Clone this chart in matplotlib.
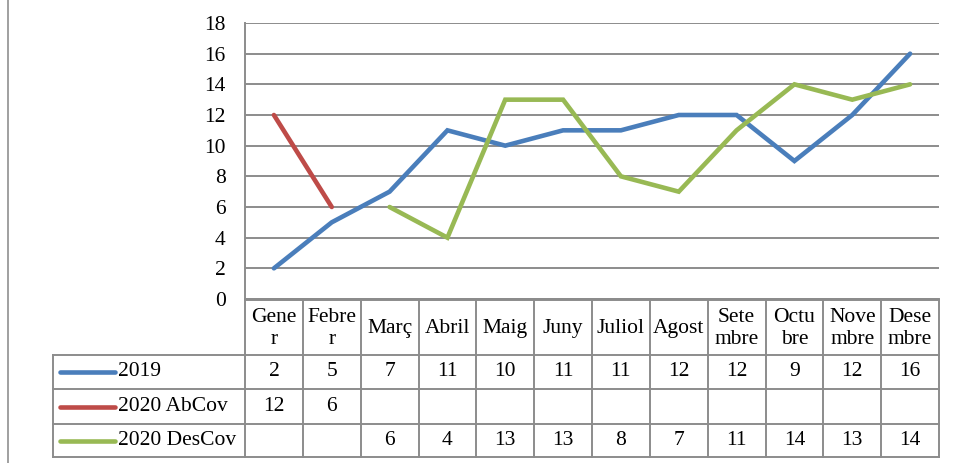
import matplotlib
matplotlib.use('Agg')
import matplotlib.pyplot as plt
import numpy as np

# data
months = ["Gene\nr", "Febre\nr", "Març", "Abril", "Maig", "Juny", "Juliol",
          "Agost", "Sete\nmbre", "Octu\nbre", "Nove\nmbre", "Dese\nmbre"]
s2019 = [2, 5, 7, 11, 10, 11, 11, 12, 12, 9, 12, 16]
abcov = [12, 6, None, None, None, None, None, None, None, None, None, None]
descov = [None, None, 6, 4, 13, 13, 8, 7, 11, 14, 13, 14]
series_names = ["2019", "2020 AbCov", "2020 DesCov"]
series_colors = ["#4a7ebb", "#be4b48", "#98b954"]
yticks = [0, 2, 4, 6, 8, 10, 12, 14, 16, 18]

plt.rcParams['font.family'] = ['Liberation Serif', 'DejaVu Serif']
FS = 15.5
GRID = "#8c8c8c"

W, H = 956, 463
fig = plt.figure(figsize=(W / 100, H / 100), dpi=100)

# pixel layout
x0, x1 = 245, 939
ytop, ybot = 23, 299
tb_top, tb_bot = 300, 457
leg_left = 53

ax = fig.add_axes([x0 / W, 1 - ybot / H, (x1 - x0) / W, (ybot - ytop) / H])
n = len(months)
x = np.arange(n)
all_series = [s2019, abcov, descov]
for vals, c in zip(all_series, series_colors):
    v = np.array([np.nan if a is None else a for a in vals], dtype=float)
    ax.plot(x, v, color=c, lw=3.3, solid_capstyle='round', solid_joinstyle='miter', zorder=3)

ax.set_xlim(-0.5, n - 0.5)
ax.set_ylim(0, 18)
ax.set_yticks(yticks)
ax.set_yticklabels([str(t) for t in yticks], fontsize=FS)
ax.set_xticks([])
ax.tick_params(axis='y', length=0, pad=14)
ax.yaxis.grid(True, color=GRID, lw=1.4)
ax.set_axisbelow(True)
for s in ['top', 'right']:
    ax.spines[s].set_visible(False)
for s in ['left', 'bottom']:
    ax.spines[s].set_color(GRID)
    ax.spines[s].set_linewidth(1.4)

# data table below, sharing the x scale
tax = fig.add_axes([x0 / W, 1 - tb_bot / H, (x1 - x0) / W, (tb_bot - tb_top) / H])
tax.set_xlim(-0.5, n - 0.5)
tax.set_ylim(tb_bot - tb_top, 0)
tax.axis('off')
rows = [0, 55, 89, 124, 157]
px = (n) / (x1 - x0)  # data units per pixel
left_edge = -0.5 - (x0 - leg_left) * px
kw = dict(color=GRID, lw=1.4, clip_on=False)

# header
for i in range(n + 1):
    tax.plot([i - 0.5, i - 0.5], [rows[0], rows[-1]], **kw)
for i, m in enumerate(months):
    tax.text(i, (rows[0] + rows[1]) / 2 + 1, m, ha='center', va='center',
             fontsize=FS, linespacing=1.2)
# horizontal lines
tax.plot([-0.5, n - 0.5], [rows[0], rows[0]], **kw)
for r in rows[1:]:
    tax.plot([left_edge, n - 0.5], [r, r], **kw)
tax.plot([left_edge, left_edge], [rows[1], rows[-1]], **kw)

for k, (name, vals, c) in enumerate(zip(series_names, all_series, series_colors)):
    yc = (rows[k + 1] + rows[k + 2]) / 2
    tax.plot([left_edge + 7 * px, left_edge + 62 * px], [yc, yc], color=c, lw=3.3,
             solid_capstyle='round', clip_on=False)
    tax.text(left_edge + 65 * px, yc, name, ha='left', va='center', fontsize=FS)
    for i, v in enumerate(vals):
        if v is not None:
            tax.text(i, yc, str(v), ha='center', va='center', fontsize=FS)

# page border line on the left
fig.add_artist(plt.Line2D([8 / W, 8 / W], [0, 1], color="#a0a0a0", lw=1.4))

fig.savefig("out.png", dpi=100)
